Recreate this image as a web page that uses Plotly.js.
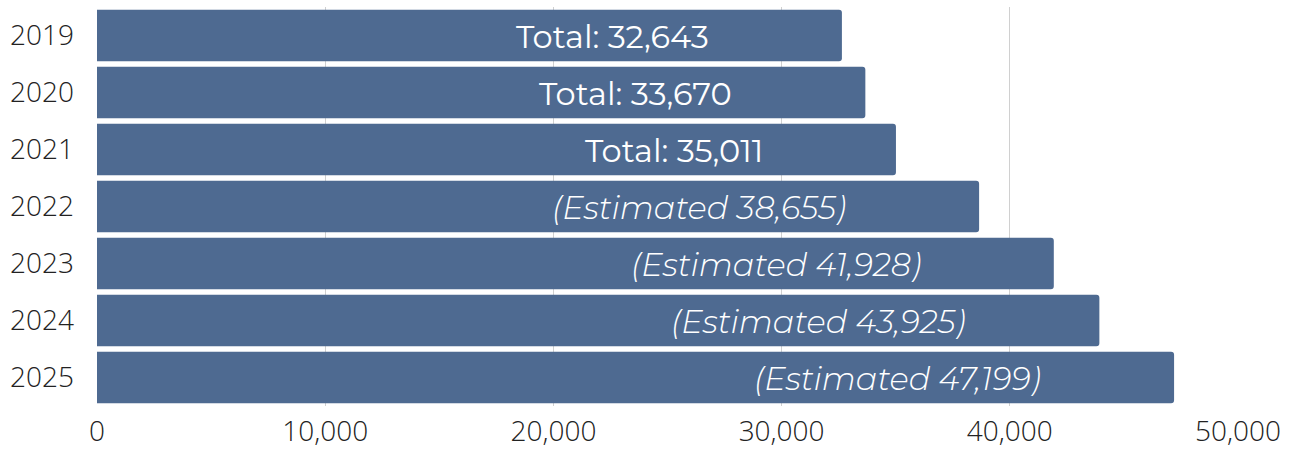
<!DOCTYPE html>
<html><head><meta charset="utf-8">
<script src="https://cdn.plot.ly/plotly-3.0.1.min.js"></script>
<style>html,body{margin:0;padding:0;background:#fff}#c{width:1295px;height:450px}</style>
</head><body><div id="c"></div>
<script>
const years = ['2019','2020','2021','2022','2023','2024','2025'];
const totals = [32643, 33670, 35011, 38655, 41928, 43925, 47199];
const estimated = [false, false, false, true, true, true, true];
const xTicks = [0, 10000, 20000, 30000, 40000, 50000];
const xTickLabels = ['0', '10,000', '20,000', '30,000', '40,000', '50,000'];

function fmt(v){ return v.toLocaleString('en-US'); }
const labels = totals.map((v,i)=> estimated[i] ? '<i>(Estimated ' + fmt(v) + ')</i>' : 'Total: ' + fmt(v));

const trace = {
  type: 'bar', orientation: 'h',
  y: years, x: totals,
  marker: {color: '#4e6a91', line: {width: 0}},
  hoverinfo: 'none'
};

const annotations = totals.map((v,i)=>({
  x: v, y: i, xref: 'x', yref: 'y',
  text: labels[i], showarrow: false, xanchor: 'right', yanchor: 'middle',
  xshift: -131, yshift: -1,
  font: {family: 'Montserrat, "Open Sans", sans-serif', size: 32, color: '#ffffff', weight: estimated[i] ? 300 : 400}
}));

const layout = {
  width: 1295, height: 450,
  margin: {l: 97, r: 57, t: 7, b: 44, pad: 0},
  paper_bgcolor: '#ffffff', plot_bgcolor: '#ffffff',
  bargap: 0.1,
  barcornerradius: 3,
  showlegend: false,
  xaxis: {
    range: [0, 50000], tickvals: xTicks, ticktext: xTickLabels,
    showgrid: true, gridcolor: '#d0d0d0', gridwidth: 1, zeroline: false,
    showline: false, ticks: '',
    tickfont: {family: '"Open Sans", sans-serif', size: 28, color: '#222222', weight: 300},
    ticklabelstandoff: 6, fixedrange: true
  },
  yaxis: {
    type: 'category', categoryorder: 'array', categoryarray: years,
    range: [years.length - 0.5, -0.5],
    showgrid: false, zeroline: false, showline: false, ticks: '',
    tickfont: {family: '"Open Sans", sans-serif', size: 28, color: '#222222', weight: 300},
    ticklabelstandoff: 22, fixedrange: true
  },
  annotations: annotations
};

Plotly.newPlot('c', [trace], layout, {displayModeBar: false, staticPlot: true});
</script>
</body></html>
